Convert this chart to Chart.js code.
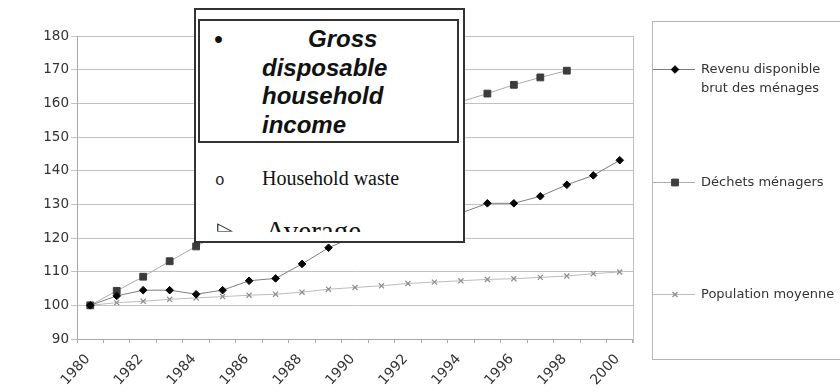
<!DOCTYPE html>
<html>
<head>
<meta charset="utf-8">
<script src="https://cdn.jsdelivr.net/npm/chart.js@4/dist/chart.umd.min.js"></script>
<style>
  html, body { margin: 0; padding: 0; background: #fff; }
  #wrap { position: relative; width: 840px; height: 392px; overflow: hidden; background: #fff; }
  #c { position: absolute; left: 0; top: 0; }
  .abs { position: absolute; white-space: nowrap; }
  #note { left: 194px; top: 8px; width: 271px; height: 235px; box-sizing: border-box; border: 2px solid #333; background: #fff; }
  #noteHead { left: 198px; top: 19px; width: 261px; height: 124px; box-sizing: border-box; border: 2px solid #333; }
  .bi { font-family: "Liberation Sans", Arial, sans-serif; font-weight: bold; font-style: italic; font-size: 24px; line-height: 28.5px; color: #111; }
  .serif { font-family: "Liberation Serif", "Times New Roman", serif; color: #111; }
  #clip3 { left: 196px; top: 200px; width: 263px; height: 32px; overflow: hidden; }
</style>
</head>
<body>
<div id="wrap">
  <canvas id="c" width="840" height="392"></canvas>
  <div id="note" class="abs"></div>
  <div id="noteHead" class="abs"></div>
  <div class="abs bi" style="left:214px; top:25px;">•</div>
  <div class="abs bi" style="left:262px; top:25px;"><span style="margin-left:46px">Gross</span><br>disposable<br>household<br>income</div>
  <div class="abs" style="left:215px; top:173px; font-family:'Liberation Mono', monospace; font-size:16px; line-height:16px; color:#222;">o</div>
  <div class="abs serif" style="left:262px; top:168px; font-size:20px; line-height:20px;">Household waste</div>
  <div id="clip3" class="abs">
    <div class="abs" style="left:21px; top:21px; font-family:'DejaVu Sans', sans-serif; font-size:11px; line-height:11px; color:#222; transform:scaleX(1.9); transform-origin:0 0;">◺</div>
    <div class="abs serif" style="left:69px; top:16.6px; font-size:29px; line-height:29px;">Average</div>
  </div>
</div>
<script>
// Indices 1980 = 100
const years = ['1980','1981','1982','1983','1984','1985','1986','1987','1988','1989','1990',
               '1991','1992','1993','1994','1995','1996','1997','1998','1999','2000'];

const revenu = [100, 102.8, 104.5, 104.5, 103.3, 104.5, 107.3, 108.0, 112.3, 117.1, 120.5,
                121.8, 123.5, 125.5, 127.4, 130.3, 130.3, 132.4, 135.8, 138.6, 143.1];

const dechets = [100, 104.3, 108.5, 113.1, 117.5, 121.8, 126.9, 131.2, 136.0, 140.4, 144.8,
                 148.5, 152.3, 156.1, 160.5, 162.9, 165.5, 167.7, 169.7, null, null];

const population = [100, 100.8, 101.2, 101.8, 102.2, 102.6, 103.0, 103.3, 103.9, 104.8, 105.3,
                    105.8, 106.5, 106.9, 107.3, 107.7, 107.9, 108.3, 108.7, 109.4, 109.9];

const yMin = 90, yMax = 180, yStep = 10;

const legendLabels = [
  ['Revenu disponible', 'brut des ménages'],
  ['Déchets ménagers'],
  ['Population moyenne']
];

const FONT = 'DejaVu Sans';

// Right-hand border of the plotting area
const frameBorder = {
  id: 'frameBorder',
  beforeDatasetsDraw(chart) {
    const { ctx, chartArea } = chart;
    ctx.save();
    ctx.strokeStyle = '#bdbdbd';
    ctx.lineWidth = 1;
    ctx.beginPath();
    ctx.moveTo(Math.round(chartArea.right) + 0.5, chartArea.top);
    ctx.lineTo(Math.round(chartArea.right) + 0.5, chartArea.bottom + 4);
    ctx.stroke();
    ctx.restore();
  }
};

// Boxed legend on the right, one entry per series
const sideLegend = {
  id: 'sideLegend',
  afterDraw(chart) {
    const { ctx } = chart;
    const rowY = [69, 182, 294];
    ctx.save();
    ctx.strokeStyle = '#b5b5b5';
    ctx.lineWidth = 1;
    ctx.strokeRect(652.5, 21.5, 200, 338);
    chart.data.datasets.forEach((ds, i) => {
      const y = rowY[i];
      ctx.strokeStyle = ds.borderColor;
      ctx.lineWidth = 1;
      ctx.beginPath();
      ctx.moveTo(653, y + 0.5);
      ctx.lineTo(695, y + 0.5);
      ctx.stroke();
      ctx.fillStyle = ds.pointBackgroundColor;
      ctx.strokeStyle = ds.pointBorderColor;
      ctx.lineWidth = ds.pointBorderWidth;
      Chart.helpers.drawPoint(ctx, {
        pointStyle: ds.pointStyle, rotation: 0,
        radius: ds.pointRadius, borderWidth: ds.pointBorderWidth
      }, 675, y + 0.5);
      ctx.fillStyle = '#333';
      ctx.font = '13px "' + FONT + '"';
      ctx.textAlign = 'left';
      ctx.textBaseline = 'middle';
      const lines = legendLabels[i];
      lines.forEach((t, k) => ctx.fillText(t, 701, y + 1 + k * 19));
    });
    ctx.restore();
  }
};

new Chart(document.getElementById('c'), {
  type: 'line',
  data: {
    labels: years,
    datasets: [
      {
        label: legendLabels[0].join(' '),
        data: revenu,
        borderColor: '#7c7c7c', borderWidth: 1, tension: 0,
        pointStyle: 'rectRot', pointRadius: 3.8,
        pointBackgroundColor: '#050505', pointBorderColor: '#050505', pointBorderWidth: 1
      },
      {
        label: legendLabels[1].join(' '),
        data: dechets,
        borderColor: '#ababab', borderWidth: 1, tension: 0,
        pointStyle: 'rect', pointRadius: 4.8,
        pointBackgroundColor: '#3c3c3c', pointBorderColor: '#3c3c3c', pointBorderWidth: 1
      },
      {
        label: legendLabels[2].join(' '),
        data: population,
        borderColor: '#bcbcbc', borderWidth: 1, tension: 0,
        pointStyle: 'crossRot', pointRadius: 3.6,
        pointBackgroundColor: '#8c8c8c', pointBorderColor: '#8c8c8c', pointBorderWidth: 1.2
      }
    ]
  },
  options: {
    responsive: false,
    animation: false,
    devicePixelRatio: 1,
    layout: { padding: { top: 36, right: 207, left: 0, bottom: 0 } },
    plugins: { legend: { display: false }, tooltip: { enabled: false } },
    scales: {
      x: {
        type: 'category',
        offset: true,
        grid: { offset: true, drawOnChartArea: false, drawTicks: true, tickLength: 4, color: '#a8a8a8' },
        border: { color: '#a8a8a8' },
        ticks: {
          autoSkip: false, minRotation: 48, maxRotation: 48, padding: 8, labelOffset: -2.5,
          color: '#333', font: { family: FONT, size: 14 },
          callback: function (value, index) { return index % 2 === 0 ? this.getLabelForValue(value) : ''; }
        },
        afterFit(scale) { scale.height = 53; }
      },
      y: {
        min: yMin, max: yMax,
        grid: { color: '#c2c2c2', tickLength: 6 },
        border: { color: '#a8a8a8' },
        ticks: { stepSize: yStep, padding: 2, color: '#333', font: { family: FONT, size: 13.5 } },
        afterFit(scale) { scale.width = 77; }
      }
    }
  },
  plugins: [frameBorder, sideLegend]
});
</script>
</body>
</html>
